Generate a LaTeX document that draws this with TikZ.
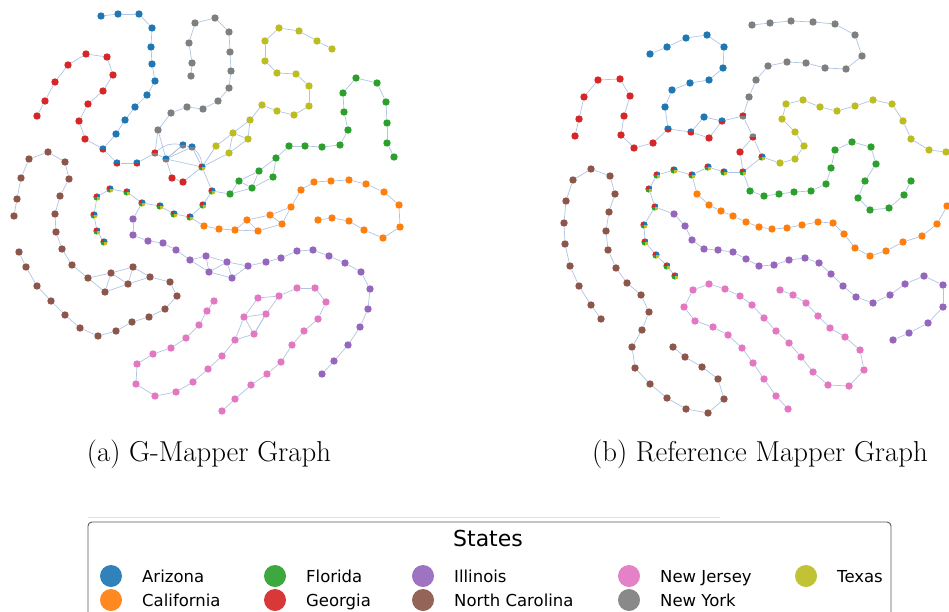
\documentclass[tikz,border=0pt]{standalone}
\usepackage{fontspec}
\newfontfamily\lgfont{DejaVu Sans}
\usetikzlibrary{backgrounds}
\definecolor{cbl}{HTML}{1F77B4}
\definecolor{cor}{HTML}{FF7F0E}
\definecolor{cgr}{HTML}{2CA02C}
\definecolor{cre}{HTML}{D62728}
\definecolor{cpu}{HTML}{9467BD}
\definecolor{cbr}{HTML}{8C564B}
\definecolor{cpi}{HTML}{E377C2}
\definecolor{cgy}{HTML}{7F7F7F}
\definecolor{cte}{HTML}{BCBD22}
\definecolor{edgec}{HTML}{AEC4E4}
\tikzset{
 dot/.style={circle,inner sep=0pt,minimum size=7.4pt,draw=none},
 dBl/.style={dot,fill=cbl}, dOr/.style={dot,fill=cor}, dGr/.style={dot,fill=cgr},
 dRe/.style={dot,fill=cre}, dPu/.style={dot,fill=cpu}, dBr/.style={dot,fill=cbr},
 dPi/.style={dot,fill=cpi}, dGy/.style={dot,fill=cgy}, dTe/.style={dot,fill=cte},
 twoc/.style 2 args={dot,path picture={
   \fill[#1] (path picture bounding box.north west) rectangle (path picture bounding box.east);
   \fill[#2] (path picture bounding box.west) rectangle (path picture bounding box.south east);}},
 xBR/.style={twoc={cbl}{cre}}, xRG/.style={twoc={cre}{cgy}},
 xBG/.style={twoc={cbl}{cgy}}, xGR/.style={twoc={cgy}{cre}},
 dMx/.style={dot,path picture={
   \fill[cre] (path picture bounding box.center) rectangle (path picture bounding box.north west);
   \fill[cbl] (path picture bounding box.center) rectangle (path picture bounding box.north east);
   \fill[cgr] (path picture bounding box.center) rectangle (path picture bounding box.south west);
   \fill[cte] (path picture bounding box.center) rectangle (path picture bounding box.south east);}},
 edge/.style={draw=edgec,line width=0.7pt},
 lgdot/.style={circle,inner sep=0pt,minimum size=22pt,draw=none},
 lgtxt/.style={inner sep=0pt,anchor=base west,font=\lgfont\fontsize{16.5}{18}\selectfont},
 captxt/.style={inner sep=0pt,font=\fontsize{28.8}{34}\selectfont},
}
\newcommand\chain[2]{%
 \foreach \x/\y/\s [count=\i] in {#2}{\node[\s] (#1\i) at (\x,\y) {};}%
 \begin{pgfonlayer}{background}%
 \foreach \x/\y/\s [count=\i] in {#2}{\ifnum\i>1 \pgfmathtruncatemacro\j{\i-1}\draw[edge] (#1\j) -- (#1\i);\fi}%
 \end{pgfonlayer}}
\newcommand\links[1]{\begin{pgfonlayer}{background}\foreach \a/\b in {#1}{\draw[edge] (\a) -- (\b);}\end{pgfonlayer}}
\begin{document}
\begin{tikzpicture}[x=1pt,y=-1pt]
\useasboundingbox (0,0) rectangle (949,612);
\clip (0,0) rectangle (949,612);
% ===== left graph =====
\chain{LB}{101/16/dBl,118/14/dBl,139/14/dBl,152/28/dBl,151/47/dBl,152/64/dBl,155/81/dBl,147/95/dBl,135/107/dBl,125/120/dBl,116/134/dBl,103/149/xBR,117/163/xBR,137/163/xBR,155/153/xRG}
\chain{LR}{37/116/dRe,45/101/dRe,55/82/dRe,68/65/dRe,86/54/dRe,107/57/dRe,113/75/dRe,103/91/dRe,88/104/dRe,79/121/dRe,85/139/dRe}
\chain{LG}{191/76/dGy,192/63/dGy,189/43/dGy,195/23/dGy,215/18/dGy,229/32/dGy,230/52/dGy,231/71/dGy,229/88/dGy,218/101/dGy,203/109/dGy,187/107/dGy,171/113/dGy,158/130/dGy}
\chain{LC}{166/159/xBG,183/145/xBG,192/147/xBG,202/167/dMx}
\chain{LD}{172/178/dRe,183/182/dRe}
\chain{LT}{332/49/dTe,317/41/dTe,299/31/dTe,279/28/dTe,265/41/dTe,265/61/dTe,277/73/dTe,296/74/dTe,309/86/dTe,309/106/dTe,294/115/dTe,277/111/dTe,262/105/dTe,250/120/dTe,233/133/dTe,216/146/dTe}
\chain{LTx}{248/139/dTe,229/153/dTe}
\chain{LV}{394/157/dGr,387/143/dGr,387/123/dGr,386/102/dGr,377/83/dGr,356/78/dGr,343/93/dGr,344/112/dGr,348/130/dGr,340/145/dGr,322/147/dGr,305/146/dGr,289/146/dGr,276/158/dGr,259/171/dGr,239/181/dGr,230/194/dGr}
\chain{LVx}{273/177/dGr,252/188/dGr}
\chain{LM}{104/242/dMx,97/231/dMx,94/215/dMx,97/197/dMx,110/189/dMx,127/192/dMx,142/203/dMx,160/206/dMx,174/214/dMx,190/217/dMx,203/205/dMx,212/191/dMx}
\chain{LO}{318/220/dOr,332/218/dOr,349/221/dOr,364/230/dOr,383/238/dOr,400/227/dOr,399/205/dOr,384/192/dOr,366/184/dOr,349/180/dOr,331/181/dOr,314/182/dOr,301/190/dOr,291/207/dOr,270/215/dOr,247/220/dOr,235/230/dOr,219/229/dOr,204/226/dOr}
\chain{LOx}{282/224/dOr,258/231/dOr}
\chain{LP}{133/219/dPu,133/235/dPu,148/241/dPu,163/243/dPu,176/250/dPu,190/260/dPu,206/256/dPu,227/262/dPu,248/266/dPu,266/262/dPu,281/258/dPu,297/251/dPu,313/250/dPu,329/256/dPu,345/263/dPu,361/272/dPu,370/289/dPu,368/309/dPu,360/327/dPu,348/345/dPu,334/361/dPu,322/374/dPu}
\chain{LPx}{209/272/dPu,232/278/dPu}
\chain{LN}{14/216/dBr,17/199/dBr,21/178/dBr,29/159/dBr,48/152/dBr,65/162/dBr,69/179/dBr,60/196/dBr,55/214/dBr,56/232/dBr,62/249/dBr,72/265/dBr,88/278/dBr,111/273/dBr,133/267/dBr,150/277/dBr,170/282/dBr,177/296/dBr,165/309/dBr,149/317/dBr,132/322/dBr,116/331/dBr,98/336/dBr,80/328/dBr,65/315/dBr,51/301/dBr,37/286/dBr,26/267/dBr,19/252/dBr}
\chain{LNx}{105/292/dBr,128/284/dBr}
\chain{LK}{214/301/dPi,207/311/dPi,199/325/dPi,186/338/dPi,171/348/dPi,153/354/dPi,137/364/dPi,136/384/dPi,155/396/dPi,176/392/dPi,193/382/dPi,208/369/dPi,222/356/dPi,235/340/dPi,244/317/dPi,258/298/dPi,279/296/dPi,297/288/dPi,315/288/dPi,326/302/dPi,318/319/dPi,304/331/dPi,292/345/dPi,281/362/dPi,267/374/dPi,251/385/dPi,235/399/dPi,222/411/dPi}
\chain{LKx}{254/334/dPi,266/314/dPi}
\links{LR11/LB12,LB15/LC1,LC1/LC2,LC1/LC3,LC1/LC4,LG14/LB15,LG14/LC1,LC1/LD1,LD2/LC4,LT16/LC4,LTx2/LC4,LC4/LM12,LT14/LTx1,LT15/LTx2,LT15/LTx1,
 LV14/LVx1,LV15/LVx2,LV16/LVx2,LVx2/LV17,LV17/LM12,LO14/LOx1,LO15/LOx1,LO16/LOx2,LOx2/LO17,LO19/LM10,
 LP6/LPx1,LP7/LPx1,LPx1/LP8,LP8/LPx2,LPx2/LP9,LM7/LP1,LN13/LNx1,LN14/LNx1,LN14/LNx2,LN15/LNx2,LNx2/LN16,
 LK14/LKx1,LK15/LKx1,LK15/LKx2,LKx2/LK17,LKx1/LKx2}
\begin{pgfonlayer}{background}
\draw[edge] (LB15) to[bend left=25] (LC2);
\draw[edge] (LC2) to[bend left=35] (LC4);
\end{pgfonlayer}
% ===== right graph =====
\chain{RB}{650/54/dBl,667/47/dBl,686/38/dBl,707/35/dBl,724/47/dBl,723/68/dBl,709/80/dBl,690/83/dBl,672/90/dBl,665/107/dBl,668/129/xBR}
\chain{RR}{575/136/dRe,579/119/dRe,584/97/dRe,598/80/dRe,620/79/dRe,630/96/dRe,624/116/dRe,621/135/dRe,634/148/dRe,653/143/dRe}
\chain{RC}{691/132/xBR,704/117/dBl,722/121/xBR,743/116/xRG}
\chain{RCx}{709/138/dRe}
\chain{RG}{752/25/dGy,770/23/dGy,791/21/dGy,813/22/dGy,835/24/dGy,855/35/dGy,862/56/dGy,846/69/dGy,825/68/dGy,806/63/dGy,787/62/dGy,768/66/dGy,756/80/dGy,749/97/dGy}
\chain{RD}{753/137/xGR,762/157/dMx}
\chain{RE}{740/152/dRe}
\chain{RT}{946/152/dTe,929/150/dTe,911/139/dTe,903/121/dTe,892/104/dTe,873/100/dTe,855/106/dTe,837/111/dTe,820/107/dTe,803/100/dTe,786/104/dTe,782/119/dTe,795/132/dTe,804/146/dTe,795/159/dTe,780/163/dTe}
\chain{RM}{743/172/dMx,724/172/dMx,708/167/dMx,692/175/dMx,674/170/dMx,657/175/dMx,649/189/dMx,655/207/dMx,644/225/dMx,645/242/dMx,656/255/dMx,667/266/dMx,675/276/dMx}
\chain{RO}{697/194/dOr,709/205/dOr,721/211/dOr,733/216/dOr,746/222/dOr,759/227/dOr,772/229/dOr,787/228/dOr,802/225/dOr,818/222/dOr,833/223/dOr,844/234/dOr,855/248/dOr,870/256/dOr,886/251/dOr,903/242/dOr,922/236/dOr,937/224/dOr,947/206/dOr}
\chain{RV}{750/191/dGr,764/196/dGr,779/194/dGr,794/192/dGr,811/191/dGr,826/184/dGr,831/168/dGr,835/150/dGr,852/142/dGr,871/147/dGr,876/164/dGr,865/181/dGr,858/198/dGr,870/210/dGr,889/208/dGr,904/195/dGr,911/181/dGr}
\chain{RP}{674/214/dPu,685/226/dPu,692/240/dPu,704/249/dPu,718/250/dPu,733/252/dPu,746/259/dPu,759/266/dPu,774/265/dPu,789/260/dPu,805/258/dPu,819/263/dPu,831/274/dPu,843/286/dPu,856/297/dPu,873/303/dPu,890/295/dPu,905/284/dPu,924/276/dPu,943/285/dPu,943/307/dPu,928/323/dPu,909/333/dPu,893/340/dPu}
\chain{RN}{601/319/dBr,591/305/dBr,579/286/dBr,570/266/dBr,565/244/dBr,564/223/dBr,566/201/dBr,573/180/dBr,591/169/dBr,610/176/dBr,615/194/dBr,609/212/dBr,606/231/dBr,608/250/dBr,616/268/dBr,627/283/dBr,641/295/dBr,649/312/dBr,642/330/dBr,632/347/dBr,635/368/dBr,650/384/dBr,667/398/dBr,686/409/dBr,708/413/dBr,724/399/dBr,718/379/dBr,702/367/dBr,685/357/dBr,673/347/dBr}
\chain{RK}{780/290/dPi,793/295/dPi,806/303/dPi,818/316/dPi,830/328/dPi,845/337/dPi,860/350/dPi,864/370/dPi,849/386/dPi,828/385/dPi,813/372/dPi,801/357/dPi,789/343/dPi,776/331/dPi,764/318/dPi,752/305/dPi,740/296/dPi,725/289/dPi,709/284/dPi,693/290/dPi,684/307/dPi,695/321/dPi,713/327/dPi,728/335/dPi,742/348/dPi,753/363/dPi,764/379/dPi,776/396/dPi,788/409/dPi}
\links{RR10/RB11,RB11/RC1,RC1/RCx1,RCx1/RC3,RG14/RC4,RC4/RD1,RD1/RE1,RE1/RM1,RD2/RM1,RT16/RD2,RM4/RO1,RM1/RV1,RM8/RP1}
% ===== captions =====
\node[captxt] (capa) at (209,454) {(a) G-Mapper Graph};
\node[captxt] (capb) at (760,454) {(b) Reference Mapper Graph};
% ===== legend =====
\draw[black!12,line width=0.6pt] (88,517) -- (720,517);
\draw[black!65,line width=0.9pt,rounded corners=4pt] (88,522) rectangle (891,650);
\node[inner sep=0pt,anchor=base,font=\lgfont\fontsize{22}{25}\selectfont] (ttl) at (488,546) {States};
\foreach \nm/\cx/\cy/\col/\txt in {az/111/576/cbl/Arizona, ca/111/600/cor/California, fl/275/576/cgr/Florida, ga/275/600/cre/Georgia, il/423/576/cpu/Illinois, nc/423/600/cbr/North Carolina, nj/629/576/cpi/New Jersey, ny/629/600/cgy/New York, tx/806/576/cte/Texas}{
  \node[lgdot,fill=\col!92!white] (m\nm) at (\cx,\cy) {};
  \node[lgtxt] (t\nm) at (\cx+31,\cy+6) {\txt};
}
\end{tikzpicture}
\end{document}
